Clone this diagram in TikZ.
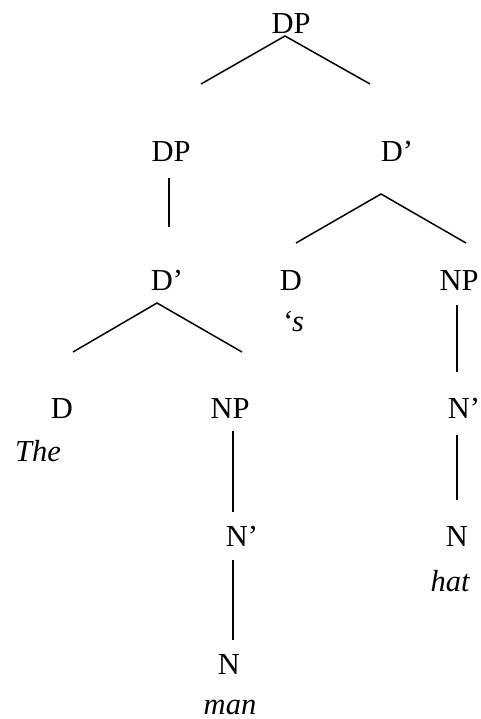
\documentclass[tikz,border=0pt]{standalone}
\usepackage{fontspec}
\setmainfont{Liberation Serif}
\usepackage{tikz}
\usetikzlibrary{calc,positioning}
\tikzstyle{cat} = [anchor=base, inner sep=0pt, font=\fontsize{30.5}{36}\selectfont]
\tikzstyle{word} = [anchor=base, inner sep=0pt, font=\fontsize{30.5}{36}\selectfont\itshape]
\tikzstyle{branch} = [line width=1.5pt, color=black]
\begin{document}
\begin{tikzpicture}[x=1pt, y=-1pt]
\useasboundingbox (0,0) rectangle (481,719);

\node (dp0) [cat] at (291,34) {DP};
\node (dpA) [cat] at (171,162) {DP};
\node (dbB) [cat] at (397,162) {D’};
\node (dbA) [cat] at (167,290) {D’};
\node (dB) [cat] at (291,290) {D};
\node (npB) [cat] at (459,290) {NP};
\node (dA) [cat] at (62,418) {D};
\node (npA) [cat] at (230,418) {NP};
\node (nbB) [cat] at (464,418) {N’};
\node (nbA) [cat] at (242,546) {N’};
\node (nB) [cat] at (457,546) {N};
\node (nA) [cat] at (229,674) {N};

\node (wS) [word] at (293,331) {‘s};
\node (wThe) [word] at (38,461) {The};
\node (wHat) [word] at (450,591) {hat};
\node (wMan) [word] at (230,714) {man};

\draw[branch] ($(dpA.base)+(30,-78)$) -- ($(dp0.base)+(-6,2)$) -- ($(dbB.base)+(-27,-78)$);
\draw[branch] ($(dpA.base)+(-2,16)$) -- ($(dbA.base)+(2,-63)$);
\draw[branch] ($(dB.base)+(5,-47)$) -- ($(dbB.base)+(-16,32)$) -- ($(npB.base)+(7,-47)$);
\draw[branch] ($(npB.base)+(-2,15)$) -- ($(nbB.base)+(-7,-46)$);
\draw[branch] ($(dA.base)+(11,-66)$) -- ($(dbA.base)+(-10,13)$) -- ($(npA.base)+(12,-66)$);
\draw[branch] ($(npA.base)+(3,13)$) -- ($(nbA.base)+(-9,-34)$);
\draw[branch] ($(nbA.base)+(-9,14)$) -- ($(nA.base)+(4,-34)$);
\draw[branch] ($(nbB.base)+(-7,17)$) -- ($(nB.base)+(0,-46)$);
\end{tikzpicture}
\end{document}
